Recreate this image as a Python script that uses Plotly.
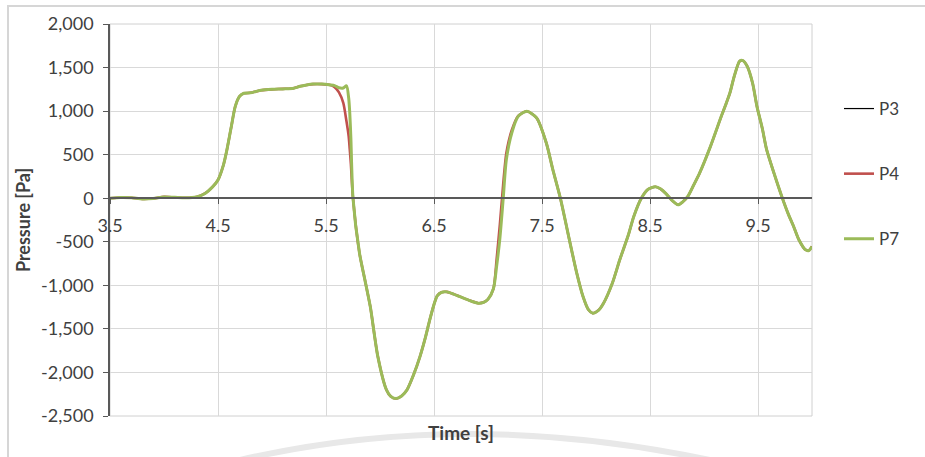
import plotly.graph_objects as go

# ---------------- data ----------------
T = [3.50, 3.60, 3.70, 3.80, 3.90, 4.00, 4.10, 4.20, 4.30, 4.38, 4.45, 4.50, 4.55, 4.58,
     4.62, 4.66, 4.70, 4.74, 4.80, 4.85, 4.90, 5.00, 5.10, 5.20, 5.26, 5.32, 5.38, 5.46,
     5.54, 5.58, 5.62, 5.66, 5.69, 5.71, 5.72, 5.73, 5.75, 5.81, 5.86, 5.91, 5.98, 6.06,
     6.10, 6.15, 6.20, 6.25, 6.31, 6.37, 6.42, 6.46, 6.50, 6.53, 6.57, 6.62, 6.68, 6.74,
     6.82, 6.91, 6.96, 7.00, 7.05, 7.08, 7.11, 7.14, 7.17, 7.22, 7.28, 7.36, 7.45, 7.54,
     7.60, 7.67, 7.76, 7.82, 7.88, 7.93, 7.97, 8.02, 8.07, 8.15, 8.22, 8.30, 8.35, 8.42,
     8.48, 8.55, 8.60, 8.65, 8.70, 8.76, 8.80, 8.85, 8.90, 8.96, 9.06, 9.16, 9.20, 9.24,
     9.28, 9.33, 9.36, 9.40, 9.45, 9.49, 9.54, 9.58, 9.65, 9.72, 9.78, 9.83, 9.88, 9.94,
     9.97, 10.0]

P7 = [0, 8, 5, -8, -3, 15, 10, 5, 15, 55, 130, 210, 380, 540,
      800, 1055, 1170, 1205, 1210, 1225, 1240, 1250, 1255, 1262, 1285, 1300, 1310, 1310,
      1300, 1292, 1268, 1265, 1290, 1150, 980, 700, 0, -630, -937, -1244, -1818, -2201,
      -2275, -2300, -2270, -2200, -2030, -1818, -1600, -1400, -1220, -1120, -1080, -1075, -1100, -1130,
      -1170, -1205, -1195, -1160, -1040, -780, -460, -17, 443, 749, 940, 998, 922, 634,
      330, 0, -515, -850, -1129, -1280, -1320, -1290, -1205, -980, -707, -420, -209, 0,
      100, 132, 105, 50, -20, -75, -45, 21, 140, 290, 595, 940, 1070, 1209,
      1400, 1573, 1580, 1515, 1320, 1055, 800, 557, 280, 21, -180, -324, -480, -592,
      -600, -554]

P4 = [0, 8, 5, -8, -3, 15, 10, 5, 15, 55, 130, 210, 380, 540,
      800, 1055, 1170, 1205, 1210, 1225, 1240, 1250, 1255, 1262, 1285, 1300, 1310, 1310,
      1300, 1275, 1215, 1094, 880, 710, 560, 400, 0, -630, -937, -1244, -1818, -2201,
      -2275, -2300, -2270, -2200, -2030, -1818, -1600, -1400, -1220, -1120, -1080, -1075, -1100, -1130,
      -1170, -1205, -1195, -1160, -1040, -700, -300, 150, 520, 780, 945, 998, 922, 634,
      330, 0, -515, -850, -1129, -1280, -1320, -1290, -1205, -980, -707, -420, -209, 0,
      100, 132, 105, 50, -20, -75, -45, 21, 140, 290, 595, 940, 1070, 1209,
      1400, 1573, 1580, 1515, 1320, 1055, 800, 557, 280, 21, -180, -324, -480, -592,
      -600, -554]

P3 = list(P7)

SERIES = [("P3", P3, "#000000", 1.2), ("P4", P4, "#C0504D", 2.6), ("P7", P7, "#9BBB59", 3.0)]

X_TICKS = [3.5, 4.5, 5.5, 6.5, 7.5, 8.5, 9.5]
X_LABELS = ["3.5", "4.5", "5.5", "6.5", "7.5", "8.5", "9.5"]
Y_TICKS = [2000, 1500, 1000, 500, 0, -500, -1000, -1500, -2000, -2500]
Y_LABELS = ["2,000", "1,500", "1,000", "500", "0", "-500", "-1,000", "-1,500", "-2,000", "-2,500"]

X_RANGE = [3.5, 10.0]
Y_RANGE = [-2500, 2000]

# ---------------- figure ----------------
W, H = 925, 457
L, R, TOP, B = 110, 113, 24, 41

fig = go.Figure()
for name, vals, col, lw in SERIES:
    fig.add_trace(go.Scatter(
        x=T, y=vals, name=name, mode="lines",
        line=dict(color=col, width=lw, shape="spline", smoothing=0.7),
        legendgroup=name,
    ))

font_fam = "Lato, 'Open Sans', sans-serif"
txt_col = "#404040"
ax_col = "#595959"
grid_col = "#d9d9d9"

zero_pos = (0 - Y_RANGE[0]) / (Y_RANGE[1] - Y_RANGE[0])

pw = W - L - R
ph = H - TOP - B
def px_x(px):
    return (px - L) / pw
def px_y(py):
    return (H - B - py) / ph

fig.update_layout(
    width=W, height=H,
    margin=dict(l=L, r=R, t=TOP, b=B, autoexpand=False),
    paper_bgcolor="white", plot_bgcolor="white",
    font=dict(family=font_fam, size=18, color=txt_col),
    showlegend=True,
    legend=dict(
        xref="container", yref="container",
        x=839 / W, y=1 - 91 / H, xanchor="left", yanchor="top",
        font=dict(size=17, color=txt_col),
        tracegroupgap=40, bgcolor="rgba(0,0,0,0)",
    ),
    xaxis=dict(
        range=X_RANGE, tickvals=X_TICKS, ticktext=X_LABELS,
        showgrid=True, gridcolor=grid_col, gridwidth=1,
        showline=True, linecolor=ax_col, linewidth=1.6,
        ticks="outside", ticklen=5, tickcolor=ax_col, tickwidth=1.2,
        anchor="free", position=zero_pos, zeroline=False,
        ticklabelstandoff=6,
        tickfont=dict(size=18, color=txt_col),
    ),
    yaxis=dict(
        range=Y_RANGE, tickvals=Y_TICKS, ticktext=Y_LABELS,
        showgrid=True, gridcolor=grid_col, gridwidth=1,
        showline=True, linecolor=ax_col, linewidth=1.6,
        ticks="outside", ticklen=5, tickcolor=ax_col, tickwidth=1.2,
        zeroline=False, ticklabelstandoff=6,
        tickfont=dict(size=18, color=txt_col),
        title=dict(text="<b>Pressure [Pa]</b>", font=dict(size=18, color=txt_col), standoff=6),
    ),
    annotations=[dict(
        text="<b>Time [s]</b>", xref="paper", yref="paper",
        x=px_x(461), y=px_y(432), xanchor="center", yanchor="middle",
        showarrow=False, font=dict(size=19, color=txt_col),
    )],
)

# plot-area border (light)
fig.add_shape(type="rect", xref="paper", yref="paper", x0=0, x1=1, y0=0, y1=1,
              line=dict(color="#d0d0d0", width=1), layer="below")
# outer chart frame
fig.add_shape(type="rect", xref="paper", yref="paper",
              x0=px_x(8), x1=px_x(940), y0=px_y(470), y1=px_y(6),
              line=dict(color="#d6d6d6", width=2))
# faint watermark arc at the bottom
fig.add_shape(type="path", xref="paper", yref="paper",
              path=f"M {px_x(240)},{px_y(460)} Q {px_x(465)},{px_y(408)} {px_x(710)},{px_y(460)}",
              line=dict(color="#e8e8e8", width=6), layer="below")

fig.write_html("out.html")
